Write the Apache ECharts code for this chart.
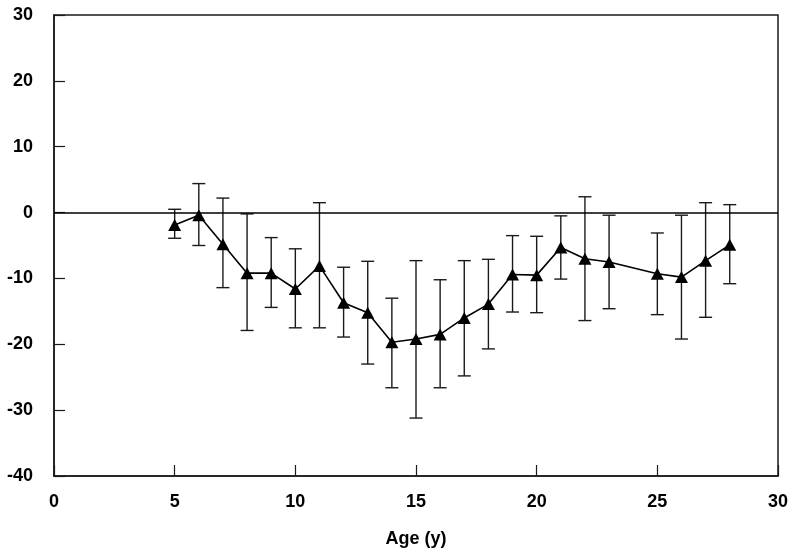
<!DOCTYPE html>
<html>
<head>
<meta charset="utf-8">
<script src="https://cdn.jsdelivr.net/npm/echarts@6/dist/echarts.min.js"></script>
<style>
html,body{margin:0;padding:0;background:#fff;}
#chart{width:800px;height:553px;}
</style>
</head>
<body>
<div id="chart"></div>
<script>
var ages = [5,6,7,8,9,10,11,12,13,14,15,16,17,18,19,20,21,22,23,25,26,27,28];
var means = [-1.9,-0.4,-4.8,-9.2,-9.2,-11.6,-8.1,-13.7,-15.2,-19.7,-19.2,-18.5,-16.0,-13.9,-9.4,-9.5,-5.3,-7.0,-7.5,-9.3,-9.8,-7.3,-4.9];
var upper = [0.5,4.4,2.2,-0.2,-3.8,-5.5,1.5,-8.3,-7.4,-13.0,-7.3,-10.2,-7.3,-7.1,-3.5,-3.6,-0.5,2.4,-0.4,-3.1,-0.4,1.5,1.2];
var lower = [-3.9,-5.0,-11.4,-17.9,-14.4,-17.5,-17.5,-18.9,-23.0,-26.6,-31.2,-26.6,-24.8,-20.7,-15.1,-15.2,-10.1,-16.4,-14.6,-15.5,-19.2,-15.9,-10.8];
var xTicks = {min: 0, max: 30, interval: 5};
var yTicks = {min: -40, max: 30, interval: 10};
var xName = 'Age (y)';

var lineData = ages.map(function (a, i) { return [a, means[i]]; });
var errData = ages.map(function (a, i) { return [a, lower[i], upper[i]]; });

var font = 'Liberation Sans, Arial, sans-serif';
var chart = echarts.init(document.getElementById('chart'), null, {renderer: 'canvas'});
chart.setOption({
  animation: false,
  backgroundColor: '#fff',
  grid: {left: 54, right: 22, top: 15, bottom: 75, show: true, borderColor: '#1a1a1a', borderWidth: 1.5, containLabel: false},
  xAxis: {
    type: 'value', min: xTicks.min, max: xTicks.max, interval: xTicks.interval,
    name: xName, nameLocation: 'middle', nameGap: 54,
    nameTextStyle: {fontFamily: font, fontWeight: 'bold', fontSize: 18, color: '#000'},
    axisLine: {show: true, onZero: false, lineStyle: {color: '#1a1a1a', width: 1.5}},
    axisTick: {show: true, inside: true, length: 11, lineStyle: {color: '#1a1a1a', width: 1.2}},
    axisLabel: {margin: 17, fontFamily: font, fontWeight: 'bold', fontSize: 18, color: '#000'},
    splitLine: {show: false}
  },
  yAxis: {
    type: 'value', min: yTicks.min, max: yTicks.max, interval: yTicks.interval,
    axisLine: {show: true, onZero: false, lineStyle: {color: '#1a1a1a', width: 1.5}},
    axisTick: {show: true, inside: true, length: 11, lineStyle: {color: '#1a1a1a', width: 1.2}},
    axisLabel: {margin: 21, fontFamily: font, fontWeight: 'bold', fontSize: 18, color: '#000'},
    splitLine: {show: false}
  },
  series: [
    {
      type: 'custom',
      data: errData,
      z: 2,
      renderItem: function (params, api) {
        var x = api.value(0);
        var lo = api.coord([x, api.value(1)]);
        var hi = api.coord([x, api.value(2)]);
        var hw = 6.5;
        var style = {stroke: '#1a1a1a', lineWidth: 1.4};
        return {
          type: 'group',
          children: [
            {type: 'line', shape: {x1: lo[0], y1: lo[1], x2: hi[0], y2: hi[1]}, style: style},
            {type: 'line', shape: {x1: lo[0] - hw, y1: lo[1], x2: lo[0] + hw, y2: lo[1]}, style: style},
            {type: 'line', shape: {x1: hi[0] - hw, y1: hi[1], x2: hi[0] + hw, y2: hi[1]}, style: style}
          ]
        };
      }
    },
    {
      type: 'line',
      data: lineData,
      z: 3,
      symbol: 'triangle',
      symbolSize: [13, 12],
      lineStyle: {color: '#000', width: 1.6},
      itemStyle: {color: '#000'},
      markLine: {
        silent: true,
        symbol: ['none', 'none'],
        label: {show: false},
        lineStyle: {color: '#000', type: 'solid', width: 1.5},
        data: [{yAxis: 0}]
      }
    }
  ]
});
</script>
</body>
</html>
